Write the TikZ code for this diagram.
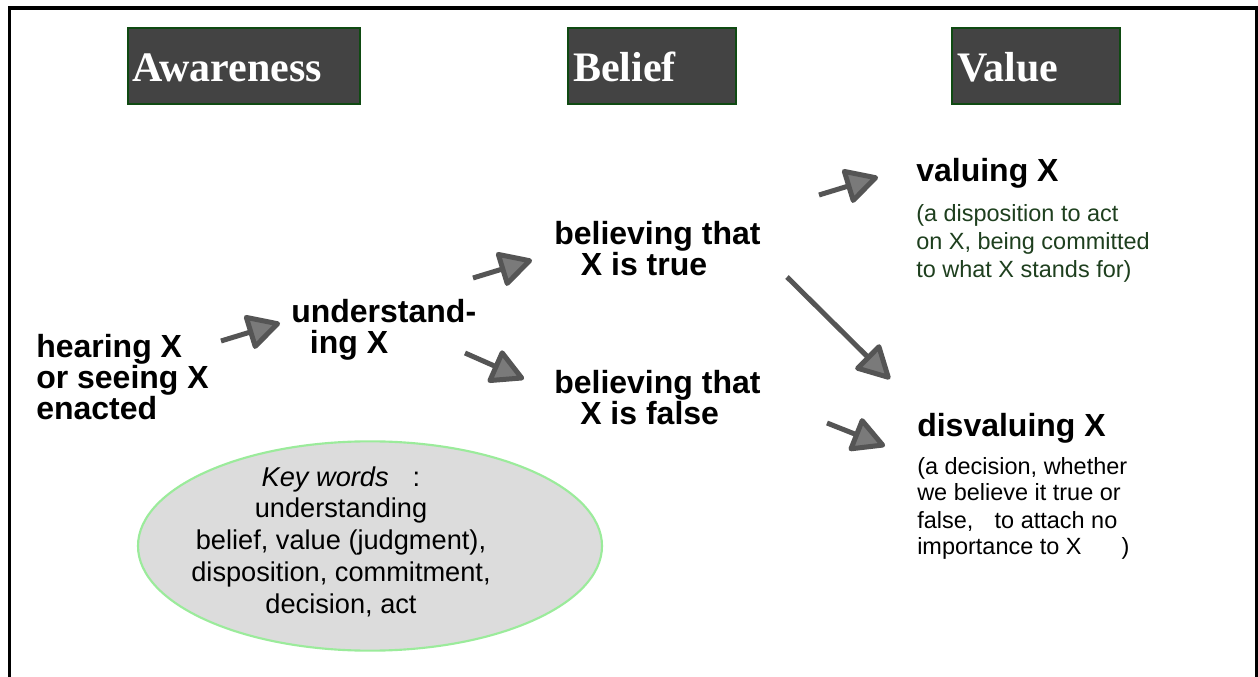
\documentclass[tikz,border=0pt]{standalone}
\usepackage{fontspec}
\setmainfont{Liberation Sans}
\newfontfamily\headfont{Liberation Serif}
\usetikzlibrary{arrows.meta,shapes.geometric}

\definecolor{boxfill}{HTML}{434343}
\definecolor{boxedge}{HTML}{0F4A12}
\definecolor{shaft}{HTML}{555555}
\definecolor{headfill}{HTML}{7A7A7A}
\definecolor{notegreen}{HTML}{1E3F1E}
\definecolor{ellfill}{HTML}{DCDCDC}
\definecolor{elledge}{HTML}{9BEB9B}

\begin{document}
\begin{tikzpicture}[x=0.75pt,y=-0.75pt,
  header/.style={draw=boxedge, fill=boxfill, line width=2pt, inner sep=0pt, minimum height=57pt},
  headtext/.style={anchor=base west, inner sep=0pt, text=white, font=\headfont\bfseries\fontsize{31.5}{34}\selectfont},
  % multi-line nodes are placed by the baseline of their last line
  stage/.style={anchor=base west, inner sep=0pt, align=left, font=\bfseries\fontsize{24}{23.25}\selectfont},
  note/.style={anchor=base west, inner sep=0pt, align=left, font=\fontsize{17.6}{21}\selectfont},
  keytext/.style={anchor=base, inner sep=0pt, align=center, font=\fontsize{20.4}{23.8}\selectfont},
  flow/.style={draw=shaft, line width=3.75pt,
    -{Triangle[length=27pt,width=28pt,fill=headfill,round]}}
]
\useasboundingbox (0,0) rectangle (1258,677);

% outer frame (runs past the lower edge)
\begin{scope}
  \clip (0,0) rectangle (1258,677);
  \draw[line width=2.4pt] (9.5,8) rectangle (1256.5,720);
\end{scope}

% column headers
\node[header, minimum width=174pt] (hAw) at (244,66) {};
\node[header, minimum width=126pt] (hBe) at (652,66) {};
\node[header, minimum width=126pt] (hVa) at (1036,66) {};
\node[headtext] (tAw) at (132,82) {Awareness};
\node[headtext] (tBe) at (573,82) {Belief};
\node[headtext] (tVa) at (957,82) {Value};

% stages
\node[stage] (hear) at (36,420) {hearing X\\or seeing X\\enacted};
\node[stage] (und) at (291,354) {understand-\\\hspace*{14pt}ing X};
\node[stage] (btrue) at (554,276) {believing that\\\hspace*{20pt}X is true};
\node[stage] (bfalse) at (554,425) {believing that\\\hspace*{19.5pt}X is false};
\node[stage] (val) at (916,182) {valuing X};
\node[note, text=notegreen, font=\fontsize{17.6}{21}\selectfont] (valnote) at (916,278)
  {(a disposition to act\\on X, being committed\\to what X stands for)};
\node[stage] (dis) at (917,437) {disvaluing X};
\node[note, font=\fontsize{17.6}{20.25}\selectfont] (disnote) at (917,555)
  {(a decision, whether\\we believe it true or\\false,\hspace{16pt}to attach no\\importance to X\hspace{30pt})};

% key words ellipse
\node[ellipse, draw=elledge, fill=ellfill, line width=1.6pt, inner sep=0pt,
      minimum width=348pt, minimum height=157pt] (keys) at (370,546) {};
\node[keytext] (keytxt) at (341,613)
  {\textit{Key words}\hspace{18pt}:\\understanding\\belief, value (judgment),\\disposition, commitment,\\decision, act};

% arrows
\coordinate (a1s) at (221,341); \coordinate (a1e) at (280,323);
\coordinate (a2s) at (473,278); \coordinate (a2e) at (532,260);
\coordinate (a3s) at (465,353); \coordinate (a3e) at (524,379);
\coordinate (a4s) at (819,195); \coordinate (a4e) at (878,177);
\coordinate (a5s) at (787,277); \coordinate (a5e) at (890,379);
\coordinate (a6s) at (827,423); \coordinate (a6e) at (885,446);
\draw[flow] (a1s) -- (a1e);
\draw[flow] (a2s) -- (a2e);
\draw[flow] (a3s) -- (a3e);
\draw[flow] (a4s) -- (a4e);
\draw[flow] (a5s) -- (a5e);
\draw[flow] (a6s) -- (a6e);
\end{tikzpicture}
\end{document}
